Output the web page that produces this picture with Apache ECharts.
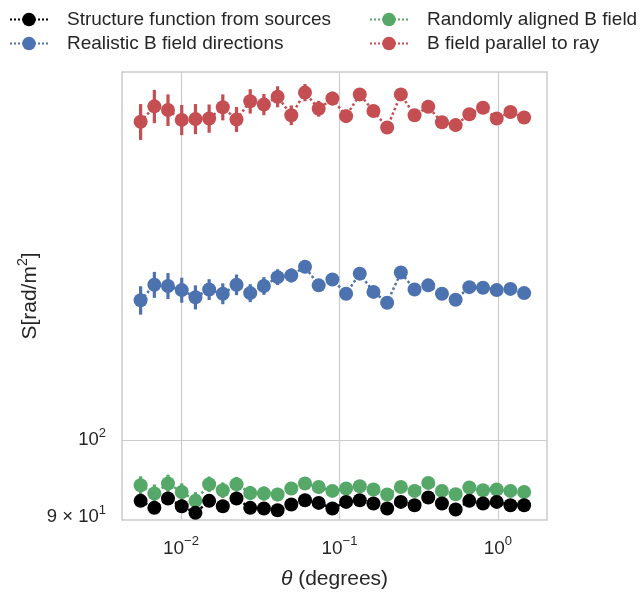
<!DOCTYPE html>
<html><head><meta charset="utf-8">
<script src="https://cdn.jsdelivr.net/npm/echarts@6/dist/echarts.min.js"></script>
<style>html,body{margin:0;padding:0;background:#fff}#c{width:640px;height:601px}</style>
</head><body><div id="c"></div>
<script>
// angular separation (degrees)
const theta = [0.00557,0.00680,0.00829,0.01012,0.01235,0.01507,0.01838,0.02243,0.02737,0.03339,0.04074,0.04971,0.06065,0.07400,0.09029,0.1102,0.1344,0.1640,0.2001,0.2441,0.2979,0.3634,0.4434,0.5410,0.6601,0.8054,0.9826,1.199,1.463];
// structure function values (rad/m^2)
const sources  = [92.04,91.16,92.34,91.37,90.54,92.04,91.37,92.34,91.16,91.08,90.87,91.58,92.12,91.78,91.08,91.91,92.12,91.71,91.08,91.91,91.49,92.46,91.71,90.96,92.04,91.71,91.91,91.49,91.49];
const realistic = [121.1,123.7,123.5,122.8,121.6,122.9,122.2,123.7,122.3,123.5,125.0,125.3,126.8,123.6,124.6,122.2,125.6,122.5,120.7,125.8,122.9,123.6,122.2,121.2,123.3,123.2,122.8,123.0,122.3];
const realisticErr = [2.35,2.2,2.2,2.1,2.0,1.75,1.75,1.75,1.5,1.5,1.35,1.2,1.0,0.9,0.85,0.85,0.75,0.75,0.65,0.65,0.65,0.6,0.6,0.6,0.5,0.5,0.5,0.5,0.5];
const random = [94.03,92.97,94.25,93.17,92.04,94.16,93.39,94.16,93.04,92.97,92.84,93.61,94.25,93.81,93.30,93.61,93.90,93.48,92.84,93.81,93.30,94.33,93.30,92.88,93.74,93.39,93.48,93.30,93.17];
const randomErr = [1.15,1.15,1.15,1.1,1.1,1.0,1.0,0.95,0.9,0.9,0.85,0.75,0.75,0.7,0.65,0.65,0.65,0.55,0.55,0.55,0.5,0.5,0.5,0.5,0.45,0.45,0.45,0.45,0.45];
const parallel = [154.6,157.9,157.1,155.0,155.2,155.3,157.7,155.1,159.0,158.3,160.0,156.0,160.9,157.4,159.6,155.8,160.5,156.9,153.4,160.5,156.0,157.8,154.5,153.9,156.2,157.6,155.3,156.7,155.5];
const parallelErr = [3.8,3.6,3.4,3.2,3.2,3.0,2.8,2.65,2.65,2.3,2.3,2.1,1.9,1.7,1.5,1.4,1.3,1.3,1.2,1.2,1.05,1.05,0.95,0.95,0.85,0.85,0.85,0.75,0.75];
const xTicks = [0.01, 0.1, 1];
const yTicks = [90, 100];
const names = ['Structure function from sources','Realistic B field directions','Randomly aligned B field','B field parallel to ray'];
const colors = ['#000000','#4C72B0','#55A868','#C44E52'];

const FONT = 'Liberation Sans, Arial, sans-serif';
const TXT = '#262626';
const sup = {fontSize: 13, padding: [0,0,14,0], color: TXT, fontFamily: FONT};

function pts(ys){ return theta.map((t,i)=>[t, ys[i]]); }
function errData(ys, es){ return theta.map((t,i)=>[t, ys[i]-es[i], ys[i]+es[i]]); }
function errSeries(ys, es, color, z){
  return {
    type:'custom', name: color+'_err', z: z, silent:true,
    data: errData(ys, es),
    renderItem: function(params, api){
      const p1 = api.coord([api.value(0), api.value(1)]);
      const p2 = api.coord([api.value(0), api.value(2)]);
      return {type:'line', shape:{x1:p1[0],y1:p1[1],x2:p2[0],y2:p2[1]}, style:{stroke:color, lineWidth:3.2}};
    }
  };
}
function lineSeries(name, ys, color, z){
  return {
    type:'line', name: name, z: z, data: pts(ys),
    symbol:'circle', symbolSize:14, showSymbol:true, animation:false,
    itemStyle:{color: color}, lineStyle:{color: color, type:'dotted', width:2.5}
  };
}

const chart = echarts.init(document.getElementById('c'), null, {renderer:'canvas'});
const legendText = {fontSize:19, color:TXT, fontFamily:FONT, padding:[0,0,0,14]};
chart.setOption({
  animation:false,
  backgroundColor:'#fff',
  textStyle:{fontFamily:FONT},
  grid:{left:122, right:93, top:72, bottom:81, show:true, borderColor:'#cccccc', borderWidth:1.5, backgroundColor:'transparent'},
  legend:[
    {data:[names[0],names[1]], orient:'vertical', left:4, top:5, itemWidth:38, itemHeight:17, itemGap:5, textStyle:legendText},
    {data:[names[2],names[3]], orient:'vertical', left:364, top:5, itemWidth:38, itemHeight:17, itemGap:5, textStyle:legendText}
  ],
  xAxis:{
    type:'log', logBase:10, min:0.00425, max:2.04,
    axisLine:{show:false}, axisTick:{show:false, customValues:xTicks},
    splitLine:{show:true, lineStyle:{color:'#cccccc', width:1.2}},
    axisLabel:{customValues:xTicks, margin:15, fontSize:19, color:TXT, fontFamily:FONT,
      formatter:function(v){ const e=Math.round(Math.log10(v)); return '10{sup|'+(e<0?'\u2212'+(-e):e)+'}'; },
      rich:{sup:sup}},
    name:'{it|\u03b8} (degrees)', nameLocation:'middle', nameGap:49,
    nameTextStyle:{fontSize:21, color:TXT, fontFamily:FONT, rich:{it:{fontStyle:'italic', fontSize:21, color:TXT, fontFamily:FONT}}}
  },
  yAxis:{
    type:'log', logBase:10, min:89.66, max:165.5,
    axisLine:{show:false}, axisTick:{show:false, customValues:[100]},
    splitLine:{show:true, lineStyle:{color:'#cccccc', width:1.2}},
    axisLabel:{customValues:yTicks, margin:16, fontSize:18.5, color:TXT, fontFamily:FONT,
      formatter:function(v){ return Math.abs(v-100)<1 ? '10{sup|2}' : '9 \u00d7 10{sup|1}'; },
      rich:{sup:sup}},
    name:'S[rad/m{sup|2}]', nameLocation:'middle', nameGap:78, nameRotate:90, nameMoveOverlap:false,
    nameTextStyle:{fontSize:21, color:TXT, fontFamily:FONT, rich:{sup:{fontSize:14, padding:[0,0,14,0], color:TXT, fontFamily:FONT}}}
  },
  series:[
    errSeries(realistic, realisticErr, colors[1], 2),
    lineSeries(names[1], realistic, colors[1], 3),
    errSeries(random, randomErr, colors[2], 2),
    lineSeries(names[2], random, colors[2], 3),
    lineSeries(names[0], sources, colors[0], 4),
    errSeries(parallel, parallelErr, colors[3], 2),
    lineSeries(names[3], parallel, colors[3], 3)
  ]
});
</script></body></html>
